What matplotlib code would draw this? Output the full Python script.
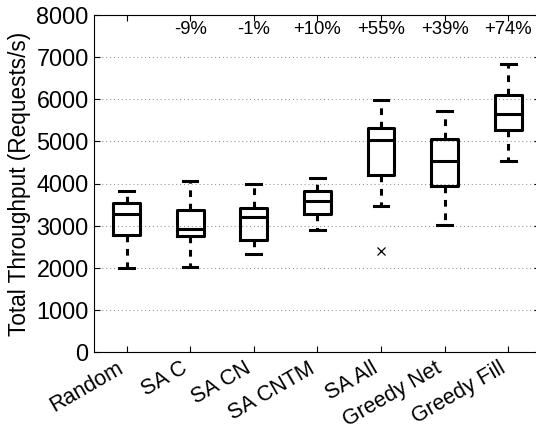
import matplotlib
matplotlib.use("Agg")
import matplotlib.pyplot as plt
import matplotlib.transforms as mtransforms

labels = ["Random", "SA C", "SA CN", "SA CNTM", "SA All", "Greedy Net", "Greedy Fill"]
whisker_lo = [2000, 2010, 2326, 2888, 3466, 3015, 4541]
q1 = [2780, 2746, 2659, 3276, 4210, 3933, 5270]
median = [3276, 2912, 3197, 3577, 5025, 4526, 5650]
q3 = [3530, 3371, 3410, 3822, 5325, 5056, 6108]
whisker_hi = [3822, 4067, 3980, 4122, 5982, 5729, 6845]
outliers = [[], [], [], [], [2398], [], []]
gain_labels = ["", "-9%", "-1%", "+10%", "+55%", "+39%", "+74%"]
gain_y = 7650

plt.rcParams["font.family"] = ["Liberation Sans", "DejaVu Sans"]

fig = plt.figure(figsize=(5.36, 4.37), dpi=100)
ax = fig.add_axes([93.5 / 536, 85 / 437, 446.5 / 536, 337 / 437])

stats = []
for i in range(len(labels)):
    stats.append({
        "label": labels[i],
        "whislo": whisker_lo[i],
        "q1": q1[i],
        "med": median[i],
        "q3": q3[i],
        "whishi": whisker_hi[i],
        "fliers": outliers[i],
    })

positions = list(range(1, len(labels) + 1))
lw = 2.2
ax.bxp(stats, positions=positions, widths=0.42, capwidths=0.23,
       boxprops=dict(color="black", linewidth=lw),
       medianprops=dict(color="black", linewidth=lw),
       whiskerprops=dict(color="black", linewidth=lw, linestyle=(0, (2.2, 2.2))),
       capprops=dict(color="black", linewidth=lw),
       flierprops=dict(marker="x", markersize=5.5, markeredgecolor="black",
                       markeredgewidth=0.9, linestyle="none"),
       zorder=3)

# подписи прироста над каждой коробкой
for x, txt in zip(positions, gain_labels):
    if txt:
        ax.text(x, gain_y, txt, ha="center", va="center", fontsize=13.3)

ax.set_xlim(0.48, 7.5)
ax.set_ylim(0, 8000)
ax.set_yticks(range(0, 8001, 1000))
ax.set_xticks(positions)
ax.set_xticklabels(labels, rotation=30, ha="right", rotation_mode="anchor", fontsize=15.5)
ax.tick_params(axis="y", labelsize=16.8)
ax.tick_params(direction="in", length=4, width=0.8, top=True, right=True)
ax.tick_params(axis="x", pad=5)
# сдвигаем подписи оси x немного влево, как в оригинале
shift = mtransforms.ScaledTranslation(-10 / 100, 1 / 100, fig.dpi_scale_trans)
for lab in ax.get_xticklabels():
    lab.set_transform(lab.get_transform() + shift)
ax.yaxis.grid(True, linestyle=(0, (1, 2.5)), color="#999999", linewidth=0.8, zorder=0)
ax.set_axisbelow(True)
for s in ax.spines.values():
    s.set_linewidth(0.8)
ax.set_ylabel("Total Throughput (Requests/s)", fontsize=16.3, labelpad=4)

fig.savefig("out.png", dpi=100)
